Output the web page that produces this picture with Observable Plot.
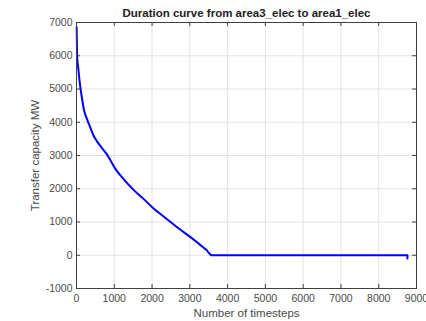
<!DOCTYPE html>
<html>
<head>
<meta charset="utf-8">
<script src="https://cdn.jsdelivr.net/npm/d3@7"></script>
<script src="https://cdn.jsdelivr.net/npm/@observablehq/plot@0.6"></script>
<style>
  html, body { margin: 0; padding: 0; background: #fff; }
</style>
</head>
<body>
<div id="chart"></div>
<script>
const titleText = "Duration curve from area3_elec to area1_elec";
const xLabel = "Number of timesteps";
const yLabel = "Transfer capacity MW";
const xTicks = [0, 1000, 2000, 3000, 4000, 5000, 6000, 7000, 8000, 9000];
const yTicks = [-1000, 0, 1000, 2000, 3000, 4000, 5000, 6000, 7000];
const timesteps = [5, 10, 15, 25, 44, 79, 140, 200, 272, 360, 447, 553, 684, 816, 886, 1035, 1230, 1496, 1761, 2027, 2381, 2735, 3000, 3265, 3430, 3585, 8760, 8760];
const capacity = [6860, 6400, 6050, 5850, 5660, 5260, 4760, 4360, 4110, 3860, 3610, 3410, 3210, 3010, 2880, 2590, 2310, 1980, 1710, 1420, 1100, 780, 560, 320, 170, 0, 0, -100];

const data = timesteps.map((t, i) => ({t, v: capacity[i]}));

const W = 426, H = 321;
const mL = 76, mR = 10, mT = 22, mB = 33;
const fw = W - mL - mR, fh = H - mT - mB;
const axisColor = "#404040";
const tickLen = 4;

const chart = Plot.plot({
  width: W,
  height: H,
  marginLeft: mL,
  marginRight: mR,
  marginTop: mT,
  marginBottom: mB,
  style: {fontFamily: "'Liberation Sans', Arial, sans-serif", fontSize: "10.5px", color: axisColor, background: "#fff", overflow: "visible"},
  x: {domain: [0, 9000]},
  y: {domain: [-1000, 7000]},
  marks: [
    Plot.gridX(xTicks, {stroke: "#e3e3e3", strokeOpacity: 1}),
    Plot.gridY(yTicks, {stroke: "#e3e3e3", strokeOpacity: 1}),
    Plot.axisX(xTicks, {tickSize: 0, tickPadding: 6, label: null, tickFormat: d => String(d), fill: "#4a4a4a"}),
    Plot.axisY(yTicks, {tickSize: 0, tickPadding: 4, label: null, tickFormat: d => String(d), fill: "#4a4a4a"}),
    Plot.tickX(xTicks, {x: d => d, insetTop: fh - tickLen, stroke: axisColor}),
    Plot.tickX(xTicks, {x: d => d, insetBottom: fh - tickLen, stroke: axisColor}),
    Plot.tickY(yTicks, {y: d => d, insetRight: fw - tickLen, stroke: axisColor}),
    Plot.tickY(yTicks, {y: d => d, insetLeft: fw - tickLen, stroke: axisColor}),
    Plot.line(data, {x: "t", y: "v", stroke: "#0000ff", strokeWidth: 2, curve: "monotone-x"}),
    Plot.frame({stroke: axisColor, strokeWidth: 1}),
    Plot.text([titleText], {frameAnchor: "top", lineAnchor: "middle", dy: -9, fontWeight: "bold", fontSize: 11.5, fill: "#222"}),
    Plot.text([xLabel], {frameAnchor: "bottom", lineAnchor: "middle", dy: 24.5, fontSize: 11.5, fill: "#4a4a4a"}),
    Plot.text([yLabel], {frameAnchor: "left", textAnchor: "middle", lineAnchor: "middle", dx: -41, rotate: -90, fontSize: 11.5, fill: "#4a4a4a"})
  ]
});
document.getElementById("chart").appendChild(chart);
</script>
</body>
</html>
